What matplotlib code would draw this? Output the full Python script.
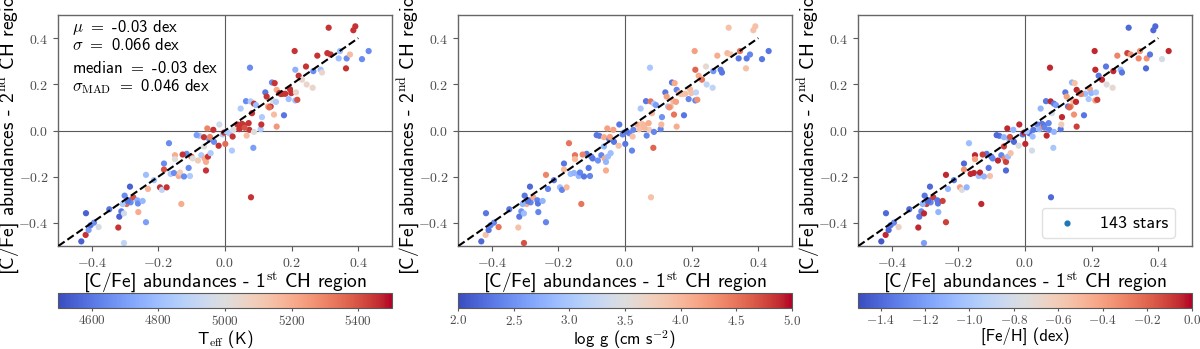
import matplotlib
matplotlib.use('Agg')
import matplotlib.pyplot as plt
from matplotlib.ticker import FuncFormatter

# [C/Fe] from the two CH regions, one entry per star
cfe_1 = [-0.431, -0.417, -0.418, -0.409, -0.403, -0.393, -0.379, -0.347, -0.320, -0.317,
         -0.311, -0.303, -0.301, -0.295, -0.289, -0.285, -0.283, -0.275, -0.263, -0.261,
         -0.260, -0.247, -0.237, -0.237, -0.231, -0.213, -0.195, -0.189, -0.183, -0.183,
         -0.175, -0.168, -0.163, -0.153, -0.150, -0.150, -0.139, -0.135, -0.131, -0.115,
         -0.109, -0.105, -0.101, -0.097, -0.081, -0.077, -0.071, -0.063, -0.063, -0.061,
         -0.057, -0.057, -0.053, -0.051, -0.047, -0.043, -0.035, -0.033, -0.019, -0.017,
         -0.007, 0.001, 0.013, 0.021, 0.023, 0.025, 0.037, 0.043, 0.047, 0.051,
         0.053, 0.057, 0.063, 0.065, 0.071, 0.073, 0.075, 0.077, 0.078, 0.081,
         0.085, 0.087, 0.087, 0.107, 0.109, 0.111, 0.121, 0.125, 0.129, 0.137,
         0.141, 0.145, 0.147, 0.149, 0.153, 0.155, 0.155, 0.163, 0.173, 0.177,
         0.181, 0.191, 0.195, 0.199, 0.209, 0.211, 0.211, 0.213, 0.217, 0.221,
         0.231, 0.243, 0.245, 0.263, 0.265, 0.277, 0.287, 0.291, 0.311, 0.307,
         0.317, 0.341, 0.345, 0.363, 0.365, 0.375, 0.385, 0.391, 0.411, 0.431,
         -0.123, -0.307, -0.303, -0.003, 0.005, -0.085, 0.059, -0.127, 0.168, -0.045,
         0.093, -0.291, 0.133]
cfe_2 = [-0.480, -0.358, -0.452, -0.431, -0.410, -0.399, -0.418, -0.341, -0.420, -0.373,
         -0.350, -0.487, -0.282, -0.318, -0.302, -0.243, -0.311, -0.289, -0.302, -0.316,
         -0.353, -0.305, -0.397, -0.192, -0.253, -0.215, -0.246, -0.257, -0.143, -0.169,
         -0.246, -0.055, -0.188, -0.184, -0.107, -0.124, -0.197, -0.182, -0.318, -0.101,
         -0.162, -0.197, -0.113, -0.121, -0.130, -0.023, -0.107, -0.029, -0.069, -0.121,
         -0.136, -0.173, 0.009, -0.113, -0.038, -0.098, 0.003, -0.049, -0.066, 0.026,
         -0.017, -0.058, -0.012, -0.087, -0.026, 0.003, 0.026, 0.006, 0.095, 0.029,
         0.017, 0.023, 0.127, -0.022, 0.032, 0.003, 0.272, 0.126, -0.289, 0.075,
         -0.075, -0.006, 0.116, 0.006, 0.026, 0.058, 0.165, 0.147, 0.104, 0.104,
         0.208, 0.127, 0.069, 0.205, 0.124, 0.176, 0.017, 0.162, 0.159, 0.066,
         0.159, 0.136, 0.179, 0.162, 0.344, 0.263, 0.130, 0.165, 0.133, 0.237,
         0.220, 0.277, 0.199, 0.185, 0.257, 0.324, 0.263, 0.251, 0.445, 0.335,
         0.329, 0.312, 0.344, 0.269, 0.312, 0.329, 0.434, 0.451, 0.309, 0.344,
         -0.199, -0.318, -0.359, -0.009, -0.004, -0.020, 0.012, -0.104, 0.158, -0.028,
         0.110, -0.306, 0.100]

teff = [4550, 4550, 5450, 4700, 4600, 4650, 4980, 4600, 5450, 4550,
        4600, 4900, 4650, 5350, 4600, 4550, 4650, 5400, 4750, 4650,
        5200, 4780, 4700, 4800, 5180, 4800, 5450, 4900, 4650, 5400,
        5450, 4650, 4850, 4650, 5200, 5000, 5200, 5100, 5200, 4650,
        4650, 4850, 5400, 5000, 5100, 4850, 4850, 5450, 5000, 5200,
        5200, 5450, 5300, 5450, 4650, 4850, 5450, 4650, 5450, 4950,
        4850, 5350, 4850, 4850, 5450, 5000, 5450, 5450, 4850, 5450,
        5450, 5450, 4650, 5150, 5450, 5450, 4650, 4850, 5450, 5450,
        4700, 5000, 5450, 4850, 5450, 4850, 4600, 5450, 5200, 5450,
        4650, 5000, 5150, 5450, 4850, 5200, 5250, 5450, 5450, 4600,
        5450, 4800, 5450, 5450, 5450, 4750, 4800, 5050, 5400, 5450,
        5050, 5450, 5050, 5050, 4650, 5450, 4800, 5050, 5450, 5450,
        5450, 4800, 4800, 5450, 4650, 5150, 5450, 5450, 4650, 4650,
        4650, 4850, 4950, 5450, 4850, 4700, 5400, 5450, 5450, 5300,
        4800, 4600, 5350]
logg = [2.2, 2.3, 3.9, 2.3, 2.4, 2.4, 4.5, 2.3, 3.9, 2.3,
        2.5, 4.7, 2.3, 4.1, 2.3, 2.2, 2.4, 4.1, 2.4, 2.3,
        2.4, 2.8, 2.4, 4.4, 2.4, 2.3, 2.9, 2.4, 2.3, 4.0,
        4.0, 4.5, 2.9, 2.8, 4.5, 4.0, 2.8, 2.4, 4.5, 2.3,
        2.3, 2.4, 2.4, 2.3, 2.5, 2.3, 2.4, 4.1, 2.8, 4.1,
        2.8, 4.1, 4.2, 2.9, 2.3, 2.9, 4.2, 2.3, 3.9, 2.3,
        2.4, 2.3, 2.4, 2.4, 3.9, 2.4, 4.1, 3.9, 3.0, 3.9,
        3.9, 4.0, 2.3, 2.4, 4.1, 3.8, 3.0, 4.5, 3.9, 4.0,
        4.6, 2.4, 3.0, 2.4, 4.0, 2.5, 2.3, 4.2, 3.0, 4.0,
        2.3, 4.0, 4.5, 4.1, 4.2, 2.4, 4.1, 4.0, 3.9, 2.3,
        3.9, 2.4, 4.0, 3.9, 4.2, 4.6, 2.4, 3.2, 4.3, 4.1,
        4.5, 3.6, 3.2, 3.2, 2.5, 4.1, 2.3, 2.3, 3.9, 4.0,
        3.9, 2.3, 4.5, 3.9, 2.3, 2.4, 3.9, 3.9, 2.3, 2.3,
        2.3, 2.8, 2.9, 2.4, 2.3, 2.3, 4.0, 4.4, 3.9, 4.2,
        2.6, 2.3, 4.3]
feh = [-1.45, -1.4, -0.05, -1.4, -1.35, -1.3, -0.65, -1.4, -0.05, -1.35,
       -1.3, -1.2, -1.35, -0.1, -1.4, -1.4, -1.3, -0.1, -1.35, -1.35,
       -1.1, -0.1, -0.1, -0.05, -1.1, -1.35, -0.4, -0.75, -1.4, -0.35,
       -1.1, -1.05, -0.05, -0.05, -0.05, -0.4, -1.05, -0.05, -0.05, -1.35,
       -1.35, -0.55, -1.35, -1.3, -0.05, -1.35, -1.3, -1.1, -0.1, -0.3,
       -0.1, -1.4, -0.05, -1.05, -1.1, -0.55, -1.1, -1.4, -0.75, -0.05,
       -1.35, -0.05, -1.35, -0.8, -1.05, -1.35, -1.3, -1.1, -1.1, -1.35,
       -0.35, -1.35, -1.35, -0.05, -1.3, -1.3, -0.05, -0.05, -1.4, -0.8,
       -1.0, -1.1, -1.35, -1.35, -0.6, -0.05, -1.35, -0.4, -1.35, -0.3,
       -1.1, -0.5, -0.35, -0.55, -0.05, -0.05, -0.1, -0.1, -0.5, -1.35,
       -1.05, -1.0, -0.4, -1.1, -0.05, -0.05, -0.4, -1.0, -0.1, -1.35,
       -0.05, -1.35, -0.75, -0.7, -0.05, -0.3, -1.1, -1.35, -1.4, -0.1,
       -0.35, -0.3, -0.35, -1.4, -0.35, -1.35, -1.4, -1.4, -0.8, -0.05,
       -1.1, -1.1, -0.05, -0.05, -1.0, -1.4, -1.3, -0.1, -0.3, -0.15,
       -1.2, -1.4, -0.2]

one_to_one = [-0.5, 0.4]
n_stars = 143
stats = [r'$\mu$ $=$ -0.03 dex', r'$\sigma$ $=$ 0.066 dex',
         r'median $=$ -0.03 dex', r'$\sigma_{\rm MAD}$ $=$ 0.046 dex']

plt.rcParams['mathtext.fontset'] = 'cm'
plt.rcParams['font.family'] = ['cmss10', 'DejaVu Sans']
plt.rcParams['axes.unicode_minus'] = False
plt.rcParams['axes.formatter.use_mathtext'] = True

panels = [
    (teff, 4500, 5500, [4600, 4800, 5000, 5200, 5400], '%d', r'T$_{\rm eff}$ (K)'),
    (logg, 2.0, 5.0, [2.0, 2.5, 3.0, 3.5, 4.0, 4.5, 5.0], '%.1f', r'log g (cm s$^{-2}$)'),
    (feh, -1.5, 0.0, [-1.4, -1.2, -1.0, -0.8, -0.6, -0.4, -0.2, 0.0], '%.1f', '[Fe/H] (dex)'),
]


def math_fmt(fmt):
    return FuncFormatter(lambda v, pos: '$' + (fmt % v) + '$')


fig = plt.figure(figsize=(12, 3.49), dpi=100)
for i, (cval, vmin, vmax, cticks, cfmt, clabel) in enumerate(panels):
    left = (58.3 + 400 * i) / 1200.
    ax = fig.add_axes([left, 0.2951, 0.2778, 0.6619])
    cax = fig.add_axes([left, 0.1175, 0.2778, 0.043])

    ax.axhline(0, color='0.35', lw=0.8, zorder=1)
    ax.axvline(0, color='0.35', lw=0.8, zorder=1)
    sc = ax.scatter(cfe_1, cfe_2, c=cval, cmap='coolwarm', vmin=vmin, vmax=vmax,
                    s=20, lw=0, zorder=2)
    ax.plot(one_to_one, one_to_one, 'k--', lw=1.5, zorder=3)
    ax.set_xlim(-0.5, 0.5)
    ax.set_ylim(-0.5, 0.5)
    ax.set_xticks([-0.4, -0.2, 0.0, 0.2, 0.4])
    ax.set_yticks([-0.4, -0.2, 0.0, 0.2, 0.4])
    ax.xaxis.set_major_formatter(math_fmt('%.1f'))
    ax.yaxis.set_major_formatter(math_fmt('%.1f'))
    ax.tick_params(labelsize=10, color='0.35', length=3.5, labelcolor='0.3')
    for sp in ax.spines.values():
        sp.set_color('0.4')
        sp.set_linewidth(1.0)
    ax.set_xlabel(r'[C/Fe] abundances - 1$^{\rm st}$ CH region', fontsize=14, labelpad=0)
    ax.set_ylabel(r'[C/Fe] abundances - 2$^{\rm nd}$ CH region', fontsize=14)
    ax.yaxis.set_label_coords(-0.112, 0.5)

    cb = fig.colorbar(sc, cax=cax, orientation='horizontal')
    cb.set_ticks(cticks)
    cb.ax.xaxis.set_major_formatter(math_fmt(cfmt))
    cb.ax.tick_params(labelsize=9.5, color='0.35', length=2.5, pad=2, labelcolor='0.3')
    cb.outline.set_edgecolor('0.35')
    cb.set_label(clabel, fontsize=12, labelpad=0)

    if i == 0:
        for txt, yy in zip(stats, [0.948, 0.870, 0.771, 0.688]):
            ax.text(0.042, yy, txt, transform=ax.transAxes, fontsize=12,
                    ha='left', va='center')
    if i == 2:
        ax.scatter([], [], s=12, color='C0', label='%d stars' % n_stars)
        ax.legend(loc='lower right', bbox_to_anchor=(0.95, 0.035), borderaxespad=0,
                  fontsize=13, frameon=True, edgecolor='0.85', fancybox=True)

fig.savefig('out.png', dpi=100)
